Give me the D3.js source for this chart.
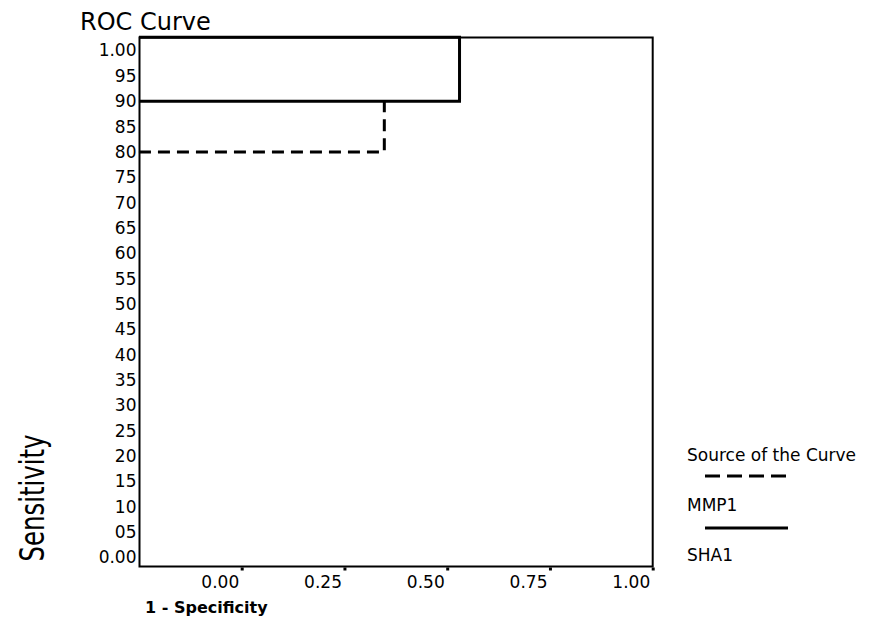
<!DOCTYPE html>
<html>
<head>
    <title>roc</title>
    <style>
        body { margin: 0; background: #fff; overflow: hidden; }
        svg text { font-family: "DejaVu Sans", sans-serif; fill: #000; }
    </style>
    <script src="https://d3js.org/d3.v7.min.js"></script>
</head>
<body>
<script>
    // values
    const xTickValues = [0, 0.25, 0.5, 0.75, 1];
    const xTickLabels = ["0.00", "0.25", "0.50", "0.75", "1.00"];
    const yTickValues = [1, 0.95, 0.9, 0.85, 0.8, 0.75, 0.7, 0.65, 0.6, 0.55, 0.5,
        0.45, 0.4, 0.35, 0.3, 0.25, 0.2, 0.15, 0.1, 0.05, 0];
    const yTickLabels = ["1.00", "95", "90", "85", "80", "75", "70", "65", "60", "55", "50",
        "45", "40", "35", "30", "25", "20", "15", "10", "05", "0.00"];
    const seriesNames = ["MMP1", "SHA1"];
    const mmp1X = [-0.25, 0.347, 0.347];
    const mmp1Y = [0.8, 0.8, 0.9];
    const sha1X = [-0.25, 0.53, 0.53, -0.25];
    const sha1Y = [0.9, 0.9, 1.026, 1.026];

    const width = 879, height = 617;
    const frame = {left: 139.5, top: 37.5, right: 652.7, bottom: 566.5};

    const svg = d3.select("body").append("svg")
        .attr("width", width)
        .attr("height", height);

    const x = d3.scaleLinear().domain([0, 1]).range([241.7, 652.7]);
    const y = d3.scaleLinear().domain([0, 1]).range([557.5, 50.5]);

    // title
    svg.append("text")
        .attr("x", 80).attr("y", 30)
        .style("font-size", "24px")
        .text("ROC Curve");

    const line = d3.line().x(d => x(d[0])).y(d => y(d[1])).curve(d3.curveLinear);

    // solid SHA1 first, under the frame
    svg.append("path")
        .datum(sha1X.map((v, i) => [v, sha1Y[i]]))
        .attr("d", line)
        .attr("fill", "none")
        .attr("stroke", "#000")
        .attr("stroke-width", 3);

    svg.append("path")
        .datum(mmp1X.map((v, i) => [v, mmp1Y[i]]))
        .attr("d", line)
        .attr("fill", "none")
        .attr("stroke", "#000")
        .attr("stroke-width", 3)
        .attr("stroke-dasharray", "12,7");

    // frame
    svg.append("rect")
        .attr("x", frame.left).attr("y", frame.top)
        .attr("width", frame.right - frame.left)
        .attr("height", frame.bottom - frame.top)
        .attr("fill", "none")
        .attr("stroke", "#000")
        .attr("stroke-width", 2);

    // x axis: little marks under the frame, labels end at the mark
    const xAxis = d3.axisBottom(x)
        .tickValues(xTickValues)
        .tickSize(3)
        .tickFormat((d, i) => xTickLabels[i]);
    const gx = svg.append("g")
        .attr("transform", `translate(0,${frame.bottom + 1})`)
        .call(xAxis);
    gx.select(".domain").remove();
    gx.selectAll(".tick line").attr("stroke", "#000").attr("stroke-width", 3);
    gx.selectAll(".tick text")
        .attr("text-anchor", "end")
        .attr("x", -3)
        .attr("y", 20)
        .attr("dy", null)
        .style("font-family", "DejaVu Sans")
        .style("font-size", "17px");

    // y axis: labels only
    const yAxis = d3.axisLeft(y)
        .tickValues(yTickValues)
        .tickSize(0)
        .tickFormat((d, i) => yTickLabels[i]);
    const gy = svg.append("g")
        .attr("transform", `translate(${frame.left},0)`)
        .call(yAxis);
    gy.select(".domain").remove();
    gy.selectAll(".tick text")
        .attr("x", -3)
        .style("font-family", "DejaVu Sans")
        .style("font-size", "17px");

    // axis titles
    svg.append("text")
        .attr("x", 145).attr("y", 613)
        .style("font-size", "16px")
        .style("font-weight", "bold")
        .text("1 - Specificity");

    svg.append("text")
        .attr("transform", "translate(44,498) rotate(-90)")
        .attr("text-anchor", "middle")
        .attr("textLength", 127)
        .attr("lengthAdjust", "spacingAndGlyphs")
        .style("font-family", "DejaVu Sans Condensed, DejaVu Sans")
        .style("font-size", "33px")
        .text("Sensitivity");

    // legend
    const legend = svg.append("g").attr("transform", "translate(687,0)");
    legend.append("text").attr("x", 0).attr("y", 461)
        .style("font-size", "17px").text("Source of the Curve");
    const styles = [{dash: "15,7", sy: 476, ty: 511}, {dash: null, sy: 528, ty: 561}];
    seriesNames.forEach((name, i) => {
        legend.append("line")
            .attr("x1", 18).attr("x2", 101)
            .attr("y1", styles[i].sy).attr("y2", styles[i].sy)
            .attr("stroke", "#000")
            .attr("stroke-width", 3)
            .attr("stroke-dasharray", styles[i].dash);
        legend.append("text")
            .attr("x", 0).attr("y", styles[i].ty)
            .style("font-size", "17px")
            .text(name);
    });
</script>
</body>
</html>
